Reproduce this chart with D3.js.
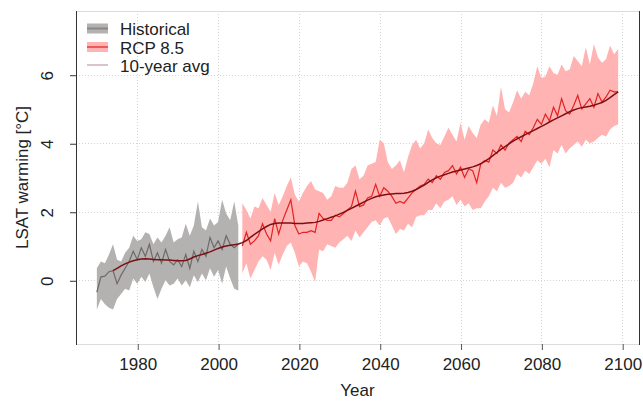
<!DOCTYPE html>
<html>
<head>
<meta charset="utf-8">
<script src="https://cdn.jsdelivr.net/npm/d3@7/dist/d3.min.js"></script>
<style>
  html, body { margin: 0; padding: 0; background: #fff; }
  svg { display: block; font-family: "Liberation Sans", Arial, sans-serif; }
</style>
</head>
<body>
<svg id="chart" width="643" height="401"></svg>
<script>
// Land surface air temperature warming: historical runs and the RCP 8.5 projection.
const histStart = 1970;
const histMean  = [-0.35,0.10,0.12,0.25,0.28,-0.10,0.15,0.35,0.55,0.85,0.60,0.95,0.70,1.05,0.55,0.80,0.50,0.90,0.55,0.45,
                    0.60,0.40,0.75,0.35,0.85,0.55,0.90,0.70,1.25,0.95,1.15,0.90,1.30,1.05,0.95,1.05];
const histLow   = [-0.85,-0.55,-0.70,-0.80,-0.85,-0.55,-0.40,-0.25,-0.30,0.05,-0.10,0.10,-0.05,0.20,-0.20,-0.55,-0.25,0.00,-0.15,-0.10,
                    0.05,-0.15,0.00,-0.20,0.15,-0.05,0.20,0.00,0.35,0.10,0.30,-0.10,0.40,0.05,-0.25,-0.30];
const histHigh  = [0.35,0.55,0.50,0.75,1.05,0.60,0.55,0.80,0.95,1.30,1.15,1.20,1.40,1.35,1.05,1.25,1.10,1.30,1.55,1.10,
                    1.20,1.25,1.65,1.30,1.60,2.30,1.55,1.45,1.80,1.60,1.70,2.35,1.95,1.75,2.30,1.60];

const rcpStart = 2006;
const rcpMean = [1.00,1.40,1.05,1.15,1.30,1.65,1.35,1.15,1.80,1.35,1.75,2.05,2.35,1.60,1.35,1.40,1.40,1.45,1.40,1.95,
                 1.80,1.75,1.75,1.90,1.85,1.95,2.05,2.15,2.60,2.15,2.20,2.40,2.45,2.80,2.45,2.70,2.60,2.45,2.25,2.30,
                 2.25,2.40,2.55,2.65,2.75,2.80,2.95,2.85,3.05,2.95,3.15,3.20,3.35,3.10,3.30,3.00,3.25,3.20,2.85,3.40,
                 3.50,3.45,3.80,3.70,3.95,3.80,4.00,4.10,4.20,4.05,4.35,4.25,4.45,4.70,4.55,4.85,4.65,5.05,4.80,5.30,
                 4.95,4.85,5.10,5.40,5.00,5.15,5.30,5.05,5.45,5.20,5.35,5.55,5.50,5.50];
const rcpLow  = [0.20,0.50,0.05,0.30,0.55,0.70,0.60,0.30,0.80,0.45,0.75,1.00,1.10,0.80,0.40,0.55,0.50,0.25,-0.05,0.90,
                 0.85,1.05,1.00,0.95,1.10,1.20,1.30,1.15,1.45,1.25,1.40,1.55,1.70,1.75,1.60,1.80,1.85,1.60,1.35,1.50,
                 1.45,1.65,1.55,1.85,1.90,1.90,2.05,2.05,2.25,2.10,2.30,2.35,2.45,2.20,2.35,2.15,2.25,2.05,2.10,2.10,
                 2.30,2.45,2.70,2.60,2.85,2.70,2.75,2.85,3.10,3.00,3.20,3.10,3.30,3.50,3.40,3.55,3.30,3.80,3.70,3.95,
                 3.70,3.85,3.95,4.05,3.90,4.10,4.00,4.05,4.15,4.25,4.20,4.40,4.50,4.55];
const rcpHigh = [2.25,2.05,1.80,2.15,2.10,2.40,2.20,2.00,2.55,2.20,2.45,2.75,3.00,2.50,2.30,2.55,2.75,2.90,2.65,2.60,
                 2.55,2.35,2.45,2.75,2.70,2.70,2.85,3.25,3.35,2.95,3.05,3.35,3.40,3.45,4.10,4.00,3.45,3.25,3.35,3.50,
                 3.15,3.60,3.95,4.10,3.85,4.00,4.40,4.15,4.00,3.95,4.20,4.45,4.25,4.05,4.60,4.10,4.50,4.30,4.15,4.55,
                 4.70,4.60,5.10,4.80,5.65,5.00,4.90,5.20,5.55,5.30,5.50,5.40,5.75,6.25,5.90,5.95,6.25,6.05,6.00,6.30,
                 6.10,6.15,6.55,6.40,6.25,6.80,6.30,6.90,6.50,6.35,6.45,6.85,6.60,6.75];

const avgStart = 1974;
const avg10 = [0.28,0.35,0.42,0.48,0.53,0.57,0.60,0.62,0.63,0.62,0.61,0.60,0.60,0.59,0.59,0.58,0.57,0.57,0.58,0.62,
               0.68,0.72,0.75,0.79,0.83,0.88,0.93,0.97,1.00,1.02,1.04,1.06,1.10,1.16,1.25,1.34,1.42,1.50,1.57,1.63,
               1.66,1.67,1.67,1.67,1.67,1.66,1.66,1.66,1.67,1.68,1.69,1.72,1.76,1.80,1.84,1.88,1.93,1.98,2.04,2.10,
               2.16,2.22,2.28,2.34,2.39,2.44,2.47,2.49,2.51,2.52,2.53,2.53,2.54,2.56,2.60,2.65,2.71,2.78,2.86,2.93,
               2.99,3.04,3.08,3.12,3.16,3.19,3.22,3.25,3.28,3.31,3.35,3.40,3.47,3.55,3.64,3.73,3.82,3.90,3.98,4.06,
               4.13,4.19,4.25,4.31,4.37,4.43,4.49,4.55,4.62,4.68,4.74,4.80,4.86,4.92,4.97,5.01,5.04,5.06,5.08,5.11,
               5.15,5.19,5.25,5.33,5.42,5.50];

const xTicks = [1980, 2000, 2020, 2040, 2060, 2080, 2100];
const yTicks = [0, 2, 4, 6];
const legendLabels = ["Historical", "RCP 8.5", "10-year avg"];

const svg = d3.select("#chart");
const plotL = 76, plotR = 639, plotT = 11, plotB = 344;

const x = d3.scaleLinear().domain([1964.84, 2104.16]).range([plotL, plotR]);
const y = d3.scaleLinear().domain([-1.86, 7.86]).range([plotB, plotT]);

const rows = (start, ...cols) => cols[0].map((_, i) => ({ year: start + i, v: cols.map(c => c[i]) }));
const hist = rows(histStart, histMean, histLow, histHigh);
const rcp  = rows(rcpStart, rcpMean, rcpLow, rcpHigh);
const avg  = avg10.map((v, i) => ({ year: avgStart + i, v: [v] }));

// grid
const grid = svg.append("g").attr("stroke", "#d4d4d4").attr("stroke-width", 1).attr("stroke-dasharray", "1,2");
grid.selectAll("line.gx").data(xTicks).join("line")
  .attr("x1", d => Math.round(x(d)) + 0.5).attr("x2", d => Math.round(x(d)) + 0.5)
  .attr("y1", plotT).attr("y2", plotB);
grid.selectAll("line.gy").data(yTicks).join("line")
  .attr("y1", d => Math.round(y(d)) + 0.5).attr("y2", d => Math.round(y(d)) + 0.5)
  .attr("x1", plotL).attr("x2", plotR);

// envelopes
const band = d3.area().x(d => x(d.year)).y0(d => y(d.v[1])).y1(d => y(d.v[2]));
svg.append("path").datum(hist).attr("d", band).attr("fill", "#b4b1b1");
svg.append("path").datum(rcp).attr("d", band).attr("fill", "#ffb3b3");

// annual means
const line = d3.line().x(d => x(d.year)).y(d => y(d.v[0]));
svg.append("path").datum(hist).attr("d", line).attr("fill", "none").attr("stroke", "#6e6a6a").attr("stroke-width", 1.2);
svg.append("path").datum(rcp).attr("d", line).attr("fill", "none").attr("stroke", "#e32222").attr("stroke-width", 1.2);

// running mean
svg.append("path").datum(avg).attr("d", line).attr("fill", "none").attr("stroke", "#7d0f12").attr("stroke-width", 1.5);

// frame
const frame = svg.append("g");
frame.append("line").attr("x1", plotL).attr("x2", plotR).attr("y1", plotT + 0.5).attr("y2", plotT + 0.5).attr("stroke", "#dcdcdc");
frame.append("line").attr("x1", plotL).attr("x2", plotR).attr("y1", plotB + 0.5).attr("y2", plotB + 0.5).attr("stroke", "#dcdcdc");
frame.append("line").attr("x1", plotL + 0.5).attr("x2", plotL + 0.5).attr("y1", plotT).attr("y2", plotB + 1).attr("stroke", "#333");
frame.append("line").attr("x1", plotR + 0.5).attr("x2", plotR + 0.5).attr("y1", plotT).attr("y2", plotB + 1).attr("stroke", "#333");

// axes
const xAxis = d3.axisBottom(x).tickValues(xTicks).tickFormat(d3.format("d")).tickSize(6).tickPadding(8);
const gx = svg.append("g").attr("transform", `translate(0.5,${plotB})`).call(xAxis);
gx.select(".domain").remove();
gx.selectAll(".tick line").attr("stroke", "#555");
gx.selectAll(".tick text").attr("font-size", 17).attr("fill", "#222").attr("font-family", "Liberation Sans, Arial, sans-serif");

const yAxis = d3.axisLeft(y).tickValues(yTicks).tickSize(6).tickFormat(d3.format("d"));
const gy = svg.append("g").attr("transform", `translate(${plotL},0.5)`).call(yAxis);
gy.select(".domain").remove();
gy.selectAll(".tick line").attr("stroke", "#333");
gy.selectAll(".tick text")
  .attr("font-size", 17).attr("fill", "#222").attr("font-family", "Liberation Sans, Arial, sans-serif")
  .attr("x", null).attr("dy", null)
  .attr("text-anchor", "middle")
  .attr("transform", "translate(-23,0) rotate(-90)");

// axis titles
svg.append("text").attr("x", (plotL + plotR) / 2).attr("y", 396).attr("text-anchor", "middle")
  .attr("font-size", 17).attr("fill", "#222").text("Year");
svg.append("text").attr("transform", `translate(28,${(plotT + plotB) / 2}) rotate(-90)`).attr("text-anchor", "middle")
  .attr("font-size", 17).attr("fill", "#222").text("LSAT warming [°C]");

// legend
const lg = svg.append("g");
const ly = [28.5, 47, 65];
lg.append("rect").attr("x", 87).attr("y", ly[0] - 5).attr("width", 21).attr("height", 10).attr("fill", "#b4b1b1");
lg.append("line").attr("x1", 87).attr("x2", 108).attr("y1", ly[0]).attr("y2", ly[0]).attr("stroke", "#8a8686").attr("stroke-width", 2);
lg.append("rect").attr("x", 87).attr("y", ly[1] - 5).attr("width", 21).attr("height", 10).attr("fill", "#ffb3b3");
lg.append("line").attr("x1", 87).attr("x2", 108).attr("y1", ly[1]).attr("y2", ly[1]).attr("stroke", "#ec5a5a").attr("stroke-width", 2);
lg.append("line").attr("x1", 87).attr("x2", 108).attr("y1", ly[2]).attr("y2", ly[2]).attr("stroke", "#cfb0b4").attr("stroke-width", 1.5);
lg.selectAll("text").data(legendLabels).join("text")
  .attr("x", 120).attr("y", (d, i) => ly[i] + 6.5)
  .attr("font-size", 17).attr("fill", "#222").text(d => d);
</script>
</body>
</html>
